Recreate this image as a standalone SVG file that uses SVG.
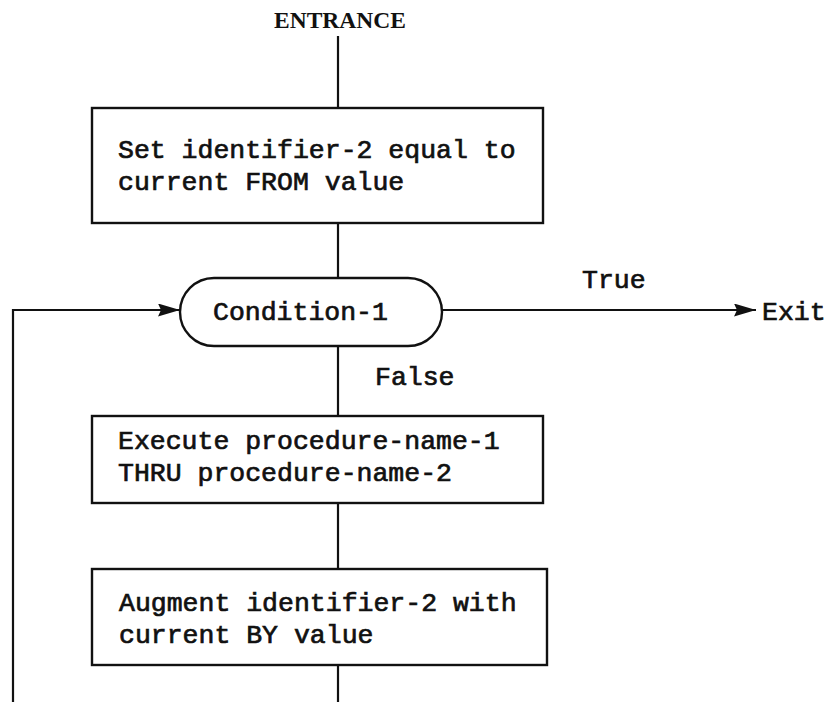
<svg xmlns="http://www.w3.org/2000/svg" width="826" height="702" viewBox="0 0 826 702">
  <defs>
    <marker id="arrow" viewBox="0 0 22 13" refX="22" refY="6.5" markerWidth="22" markerHeight="13" markerUnits="userSpaceOnUse" orient="auto">
      <path d="M0,0 L22,6.5 L0,13 L3,6.5 z" fill="#111"/>
    </marker>
  </defs>
  <style>
    .box { fill: #fff; stroke: #111; stroke-width: 2.4; }
    .line { fill: none; stroke: #111; stroke-width: 2.2; }
    .t { font-family: "Liberation Mono", "Courier New", monospace; font-size: 26.5px; fill: #111; stroke: #111; stroke-width: 0.7; }
    .title { font-family: "Liberation Serif", "Times New Roman", serif; font-size: 23.5px; font-weight: bold; fill: #111; }
  </style>
  <rect width="826" height="702" fill="#fff"/>

  <!-- flow lines -->
  <g id="connectors">
    <line class="line" x1="338" y1="36" x2="338" y2="108"/>
    <line class="line" x1="338" y1="223" x2="338" y2="278"/>
    <line class="line" x1="338" y1="346" x2="338" y2="416"/>
    <line class="line" x1="338" y1="503" x2="338" y2="569"/>
    <line class="line" x1="338" y1="665" x2="338" y2="702"/>
    <polyline class="line" points="13,702 13,310 180,310" marker-end="url(#arrow)"/>
    <line class="line" x1="442" y1="310" x2="756" y2="310" marker-end="url(#arrow)"/>
  </g>

  <g id="entrance">
    <text class="title" x="340" y="28" text-anchor="middle">ENTRANCE</text>
  </g>

  <g id="set-from">
    <rect class="box" x="92" y="108" width="451" height="115"/>
    <text class="t" x="118" y="158">Set identifier-2 equal to</text>
    <text class="t" x="118" y="190">current FROM value</text>
  </g>

  <g id="condition">
    <rect class="box" x="180" y="278" width="262" height="68" rx="34" ry="34"/>
    <text class="t" x="213" y="320">Condition-1</text>
  </g>

  <g id="true-label">
    <text class="t" x="582" y="288">True</text>
  </g>

  <g id="exit">
    <text class="t" x="762" y="320">Exit</text>
  </g>

  <g id="false-label">
    <text class="t" x="375" y="385">False</text>
  </g>

  <g id="execute">
    <rect class="box" x="92" y="416" width="451" height="87"/>
    <text class="t" x="118" y="449">Execute procedure-name-1</text>
    <text class="t" x="118" y="481">THRU procedure-name-2</text>
  </g>

  <g id="augment">
    <rect class="box" x="92" y="569" width="455" height="96"/>
    <text class="t" x="119" y="611">Augment identifier-2 with</text>
    <text class="t" x="119" y="643">current BY value</text>
  </g>
</svg>
